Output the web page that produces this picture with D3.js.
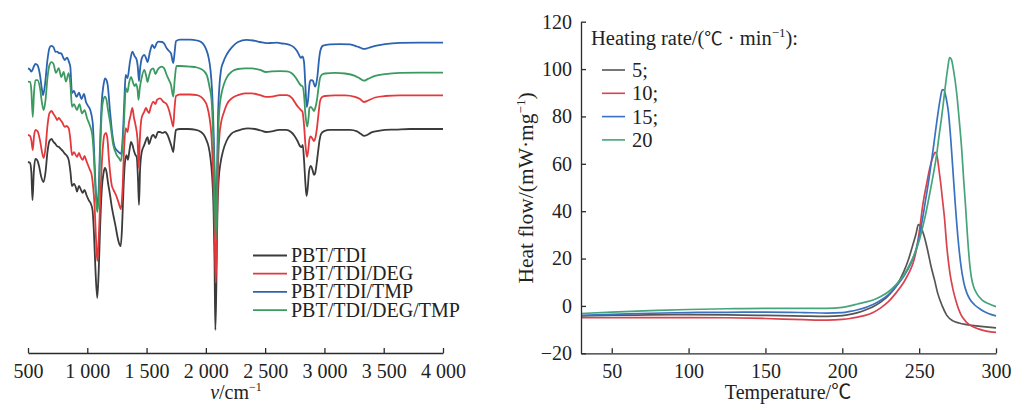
<!DOCTYPE html>
<html>
<head>
<meta charset="utf-8">
<script src="https://cdn.jsdelivr.net/npm/d3@7"></script>
<style>
  html, body { margin: 0; padding: 0; background: #fff; }
  svg { display: block; }
  text { font-family: "Liberation Serif", "Times New Roman", "Noto Sans CJK SC", serif; fill: #222; }
</style>
</head>
<body>
<svg id="chart" width="1013" height="405"></svg>
<script>
// ---------- FTIR spectra: [wavenumber cm^-1, transmittance (a.u., offset)] ----------
const irLabels = ["PBT/TDI", "PBT/TDI/DEG", "PBT/TDI/TMP", "PBT/TDI/DEG/TMP"];
const irTicks = [500, 1000, 1500, 2000, 2500, 3000, 3500, 4000];

const specTDI = [[500,61.0],[517,60.7],[528,57.7],[538,48.3],[549,57.7],[562,62.0],[576,61.7],[593,59.7],[610,56.3],[631,54.3],[648,57.7],[664,64.3],[681,68.0],[698,68.7],[715,67.7],[732,67.0],[745,66.3],[761,66.0],[778,65.3],[793,64.7],[812,63.7],[829,63.0],[843,61.7],[858,57.7],[871,53.0],[888,53.7],[905,52.3],[913,51.1],[930,53.0],[947,51.7],[961,50.7],[977,51.7],[993,50.0],[1012,48.3],[1031,47.0],[1044,45.0],[1057,36.7],[1069,25.0],[1084,15.7],[1096,24.3],[1109,40.0],[1122,51.7],[1137,57.3],[1149,59.0],[1162,57.7],[1175,54.0],[1192,50.0],[1208,45.7],[1221,43.0],[1238,39.7],[1255,36.0],[1267,34.0],[1282,33.0],[1293,39.0],[1305,51.7],[1318,61.0],[1331,63.3],[1343,61.7],[1356,65.0],[1369,67.7],[1381,66.7],[1394,64.7],[1407,63.3],[1417,62.7],[1428,55.0],[1436,46.7],[1445,58.3],[1459,64.3],[1481,66.7],[1495,68.3],[1508,69.3],[1521,67.0],[1533,68.3],[1546,69.7],[1558,70.0],[1575,69.0],[1596,71.0],[1613,71.0],[1634,70.7],[1655,71.0],[1677,70.0],[1698,67.7],[1714,65.7],[1725,64.3],[1736,68.3],[1748,71.7],[1782,72.0],[1849,72.0],[1917,71.7],[1959,71.0],[1984,70.0],[2005,68.3],[2022,66.3],[2039,62.3],[2052,56.7],[2065,45.0],[2073,28.3],[2080,5.0],[2088,18.3],[2097,43.3],[2108,55.0],[2124,60.7],[2145,64.7],[2174,68.0],[2212,70.3],[2254,71.3],[2296,71.8],[2355,72.2],[2414,72.0],[2465,71.5],[2507,71.0],[2558,71.2],[2617,71.7],[2676,71.7],[2718,71.0],[2748,69.7],[2773,68.0],[2794,66.3],[2807,66.0],[2817,66.7],[2828,61.7],[2839,54.3],[2849,49.7],[2859,52.3],[2870,57.7],[2884,59.7],[2900,58.3],[2912,56.7],[2922,57.3],[2933,60.0],[2946,64.3],[2959,68.3],[2971,70.3],[2997,71.3],[3047,71.7],[3131,71.7],[3216,71.7],[3275,71.2],[3309,70.3],[3334,69.7],[3360,70.0],[3393,70.8],[3443,71.3],[3511,71.7],[3595,71.8],[3722,72.0],[3848,72.0],[4000,72.0]];

const specDEG = [[500,70.0],[517,69.7],[528,68.3],[540,65.0],[551,69.7],[563,71.7],[580,71.3],[601,68.3],[618,64.3],[632,62.3],[648,65.7],[664,73.0],[681,77.3],[698,78.0],[715,77.0],[732,76.0],[745,75.0],[761,75.7],[774,75.0],[787,74.3],[810,72.7],[825,73.0],[843,72.3],[858,68.3],[871,63.3],[888,64.3],[913,62.7],[930,64.0],[944,62.7],[961,61.7],[977,63.0],[993,61.3],[1006,60.0],[1023,58.3],[1034,57.3],[1048,53.3],[1061,46.7],[1074,35.0],[1084,28.0],[1096,35.0],[1109,48.3],[1122,60.0],[1133,66.7],[1144,70.0],[1158,70.7],[1171,68.3],[1183,61.7],[1206,53.3],[1221,51.7],[1242,50.0],[1262,47.7],[1284,45.3],[1297,51.7],[1310,65.0],[1324,72.3],[1339,71.0],[1352,74.3],[1364,76.3],[1380,79.0],[1394,75.7],[1407,73.3],[1424,68.3],[1434,59.0],[1443,68.3],[1458,75.7],[1481,77.8],[1495,79.0],[1508,78.0],[1521,77.3],[1533,79.0],[1557,81.1],[1575,80.3],[1588,81.7],[1613,82.2],[1641,81.1],[1668,80.3],[1689,78.3],[1706,75.7],[1725,72.8],[1736,79.0],[1748,83.0],[1782,83.5],[1866,83.5],[1925,83.3],[1959,82.7],[1984,81.7],[2010,79.7],[2031,75.7],[2048,69.3],[2060,58.3],[2073,41.7],[2083,20.7],[2092,35.0],[2102,58.3],[2115,70.0],[2128,74.0],[2153,77.7],[2178,80.3],[2221,82.3],[2271,83.3],[2330,83.9],[2389,83.9],[2457,83.3],[2507,82.7],[2558,82.8],[2625,83.3],[2684,83.3],[2727,82.3],[2760,80.3],[2786,79.0],[2802,78.3],[2815,77.7],[2828,73.3],[2840,66.7],[2853,62.7],[2864,65.0],[2874,68.7],[2884,69.5],[2900,68.7],[2912,68.0],[2925,69.3],[2937,72.3],[2950,77.0],[2963,81.3],[2980,82.7],[3005,83.0],[3089,83.2],[3174,83.2],[3258,82.7],[3300,82.0],[3334,81.0],[3368,81.5],[3427,82.5],[3511,83.0],[3637,83.2],[3806,83.2],[4000,83.2]];

const specTMP = [[500,92.2],[517,91.8],[528,91.1],[538,91.7],[551,93.0],[563,93.7],[580,93.3],[601,90.0],[618,85.0],[627,83.3],[643,86.7],[664,95.0],[681,99.0],[694,99.7],[715,99.3],[732,97.7],[745,97.8],[761,97.3],[781,97.2],[795,96.0],[810,95.0],[829,95.8],[846,94.3],[857,92.7],[871,84.0],[888,84.7],[909,82.7],[930,84.1],[951,82.0],[972,83.7],[989,81.0],[1006,79.7],[1025,78.3],[1046,74.0],[1063,59.3],[1074,50.0],[1084,46.7],[1096,51.7],[1109,68.3],[1122,81.0],[1137,86.7],[1149,88.9],[1162,88.3],[1172,86.7],[1192,77.8],[1212,70.0],[1234,65.7],[1262,64.4],[1284,63.7],[1295,66.7],[1304,73.3],[1316,85.0],[1324,90.0],[1339,89.0],[1360,94.4],[1380,97.8],[1399,96.3],[1417,95.0],[1427,92.3],[1436,88.0],[1446,92.3],[1461,95.7],[1481,96.7],[1495,95.7],[1508,94.3],[1529,97.8],[1548,100.0],[1567,99.0],[1585,100.6],[1599,101.1],[1633,101.0],[1651,100.3],[1670,98.9],[1689,98.0],[1706,97.2],[1725,94.0],[1737,97.7],[1748,101.3],[1782,101.8],[1866,101.8],[1925,101.5],[1959,101.0],[1984,100.0],[2005,98.3],[2022,96.0],[2039,91.7],[2052,85.0],[2065,71.7],[2076,55.0],[2086,45.7],[2094,55.0],[2102,75.0],[2115,86.7],[2128,91.7],[2147,94.3],[2178,97.0],[2221,99.3],[2271,101.0],[2344,101.7],[2398,101.5],[2457,101.0],[2513,100.6],[2558,100.7],[2598,100.8],[2642,100.5],[2684,100.3],[2710,100.0],[2743,99.2],[2769,98.0],[2786,96.7],[2802,95.7],[2815,96.2],[2828,94.3],[2839,86.7],[2851,79.3],[2862,81.7],[2874,87.0],[2884,88.3],[2901,88.2],[2912,87.0],[2921,86.1],[2932,87.3],[2942,90.0],[2954,95.0],[2967,98.3],[2988,99.8],[3047,100.2],[3131,100.3],[3216,100.2],[3275,99.5],[3309,99.0],[3334,98.7],[3368,99.0],[3427,99.7],[3511,100.3],[3637,100.7],[3806,100.8],[4000,100.8]];

const specDEGTMP = [[500,87.8],[517,87.7],[528,85.0],[540,76.0],[551,84.3],[563,88.3],[580,88.3],[601,85.7],[618,80.7],[632,78.3],[648,81.7],[664,89.0],[681,93.3],[698,94.3],[715,93.7],[736,90.7],[759,92.3],[781,89.3],[801,91.0],[820,87.8],[843,90.6],[858,86.7],[871,79.4],[888,80.3],[913,78.3],[934,80.3],[955,77.2],[977,78.3],[998,75.6],[1025,72.8],[1042,70.0],[1054,64.0],[1065,55.0],[1074,48.3],[1084,44.3],[1096,49.0],[1109,65.0],[1122,77.7],[1135,81.7],[1149,82.8],[1162,81.7],[1175,78.3],[1192,74.4],[1219,66.7],[1248,63.3],[1267,62.3],[1284,61.3],[1295,65.0],[1304,70.0],[1318,81.7],[1324,85.7],[1339,84.3],[1352,87.3],[1369,89.4],[1384,87.7],[1398,86.3],[1411,87.0],[1424,85.0],[1432,81.7],[1443,85.7],[1458,89.0],[1481,91.7],[1495,90.0],[1508,87.7],[1521,89.7],[1537,91.7],[1557,92.2],[1575,90.3],[1592,91.7],[1628,92.8],[1647,92.3],[1670,90.0],[1689,88.3],[1706,86.7],[1725,82.8],[1737,88.3],[1752,93.0],[1782,93.0],[1866,92.8],[1925,92.5],[1959,92.0],[1984,91.3],[2010,89.7],[2031,86.0],[2048,81.7],[2060,71.7],[2073,55.0],[2083,35.0],[2092,48.3],[2102,68.3],[2115,79.0],[2128,83.0],[2153,87.0],[2178,89.3],[2221,91.2],[2271,92.0],[2330,92.2],[2389,92.2],[2457,91.7],[2507,91.0],[2558,91.2],[2625,91.3],[2684,91.2],[2727,90.5],[2760,89.0],[2786,87.3],[2802,86.5],[2815,86.3],[2828,83.3],[2840,76.7],[2855,72.8],[2866,75.7],[2874,79.0],[2884,79.4],[2900,78.7],[2912,78.0],[2925,79.3],[2937,81.7],[2950,85.7],[2963,89.0],[2980,90.2],[3005,90.5],[3089,90.7],[3174,90.5],[3258,89.7],[3300,88.8],[3334,88.1],[3368,88.7],[3427,89.7],[3511,90.3],[3637,90.7],[3806,90.8],[4000,90.8]];

// ---------- DSC curves: [temperature ℃, heat flow mW/mg] ----------
const rateLabels = ["5;", "10;", "15;", "20"];
const tempTicks = [50, 100, 150, 200, 250, 300];
const flowTicks = [-20, 0, 20, 40, 60, 80, 100, 120];

const dsc5 = [[30,-4.2],[50,-4.0],[75,-3.8],[100,-3.7],[125,-3.8],[150,-4.0],[175,-4.3],[190,-4.4],[200,-4.1],[205,-3.6],[210,-2.8],[215,-1.7],[220,-0.3],[225,1.6],[230,4.3],[235,8.3],[240,14.5],[243,19.5],[246,26],[248,30.5],[249.5,34.3],[251,33.5],[253,30],[255,25],[258,16],[260,11],[262,5.5],[265,0],[268,-4],[272,-6.3],[276,-7.2],[280,-7.8],[290,-8.6],[300,-9.3]];
const dsc10 = [[30,-5.0],[50,-5.0],[75,-4.9],[100,-4.9],[125,-5.0],[150,-5.3],[175,-5.8],[190,-6.0],[200,-5.7],[205,-5.3],[210,-4.7],[215,-4.0],[220,-2.8],[225,-0.8],[230,1.8],[235,5.5],[240,10],[243,13.5],[246,18],[248,23],[250,31],[252.7,44],[255,52],[257,58.5],[259,63],[260.5,64.8],[262,62],[263,57],[264,52],[265,46],[266.5,37],[268,25],[270,14],[272,7],[274,2],[277,-3.5],[281,-7],[289,-9.8],[300,-11.2]];
const dsc15 = [[30,-4.0],[50,-3.6],[75,-3.1],[100,-2.8],[125,-2.7],[150,-2.6],[175,-2.8],[190,-3.0],[200,-2.8],[205,-2.3],[210,-1.6],[215,-0.7],[220,0.6],[225,2.4],[230,4.8],[235,8.2],[240,12.5],[245,18.5],[248,24],[250,29],[252,36],[254,44],[256,52],[258,61],[259.5,68],[261,75.5],[262.5,82.5],[264,88.5],[265,91.2],[266,91.2],[267.5,88],[269,82],[270.5,71],[272,57],[273.5,43],[275.5,27],[277,18],[279,10],[281,5.5],[283,2.8],[286,0.5],[290,-1.5],[295,-3.2],[300,-4.2]];
const dsc20 = [[30,-3.2],[50,-2.6],[75,-2.0],[100,-1.5],[125,-1.2],[150,-1.0],[175,-1.0],[190,-1.0],[200,-0.6],[205,0],[210,0.8],[215,1.6],[220,2.5],[225,4],[230,6],[235,9],[240,13],[245,19],[248,23.5],[250,27.5],[252,32.5],[254,38],[256,44.5],[258.5,53],[261.4,64],[263,72],[264.7,80],[266.8,91.5],[268.5,100],[269.8,104.8],[271,104],[272.5,99],[274.4,90],[276,79],[277.7,66],[279,53],[280,44],[281.5,29],[283,17],[284,12],[285.5,8],[287.5,5.2],[291,2.5],[295,1],[300,-0.3]];

// ---------- drawing ----------
const svg = d3.select("#chart");
const FS = 20;
const AXIS = "#2b2b2b";
const CJK = '"Noto Sans CJK SC", "Noto Sans CJK JP", sans-serif';

// Text built from runs: plain, italic, superscript or CJK-font runs
function richText(parent, x, y, parts, opts = {}) {
  const size = opts.size || FS;
  const t = parent.append("text")
    .attr("x", x).attr("y", y)
    .attr("font-size", size)
    .attr("text-anchor", opts.anchor || "start");
  if (opts.transform) t.attr("transform", opts.transform);
  let raised = false;
  parts.forEach(p => {
    const s = t.append("tspan").text(p.t);
    if (p.italic) s.attr("font-style", "italic");
    if (p.cjk) s.style("font-family", CJK).attr("font-size", size * 0.9);
    if (p.sup) {
      s.attr("font-size", Math.round(size * 0.62)).attr("dy", -8);
      raised = true;
    } else if (raised) {
      s.attr("dy", 8);
      raised = false;
    }
  });
  return t;
}

function styleAxis(g) {
  g.selectAll("path.domain").attr("stroke", AXIS).attr("stroke-width", 1.3);
  g.selectAll(".tick line").attr("stroke", AXIS).attr("stroke-width", 1.3);
  g.selectAll(".tick text")
    .attr("font-size", FS)
    .attr("fill", "#222")
    .style("font-family", '"Liberation Serif", "Times New Roman", serif');
}

const thousands = v => v >= 1000 ? `${Math.floor(v / 1000)} ${String(v % 1000).padStart(3, "0")}` : String(v);

// ----- FTIR panel -----
const xIR = d3.scaleLinear().domain([500, 4000]).range([28, 443]);
const yIR = d3.scaleLinear().domain([0, 110]).range([345, 15]);
const irColors = ["#3b3b3b", "#e4393c", "#2c63b0", "#3b9a5f"];
const irData = [specTDI, specDEG, specTMP, specDEGTMP];

const gIR = svg.append("g");
const irLine = d3.line()
  .x(d => xIR(d[0])).y(d => yIR(d[1]))
  .curve(d3.curveMonotoneX);

irData.forEach((s, i) => {
  gIR.append("path")
    .attr("d", irLine(s))
    .attr("fill", "none")
    .attr("stroke", irColors[i])
    .attr("stroke-width", 1.8)
    .attr("stroke-linejoin", "round");
});

const gIRx = gIR.append("g")
  .attr("transform", "translate(0,353)")
  .call(d3.axisBottom(xIR).tickValues(irTicks).tickFormat(thousands)
    .tickSize(-5).tickSizeOuter(0).tickPadding(10.5));
styleAxis(gIRx);

richText(gIR, 236, 399, [{ t: "v", italic: true }, { t: "/cm" }, { t: "−1", sup: true }], { anchor: "middle" });

// legend
const irLeg = gIR.append("g");
irLabels.forEach((lab, i) => {
  const cy = 255.5 + i * 18.2;
  irLeg.append("line")
    .attr("x1", 253).attr("x2", 287)
    .attr("y1", cy).attr("y2", cy)
    .attr("stroke", irColors[i]).attr("stroke-width", 1.8);
  irLeg.append("text")
    .attr("x", 291).attr("y", cy + 6.5)
    .attr("font-size", 20)
    .text(lab);
});

// ----- DSC panel -----
const xD = d3.scaleLinear().domain([30, 300]).range([581, 996]);
const yD = d3.scaleLinear().domain([-20, 120]).range([353.3, 21.7]);
const dscColors = ["#555555", "#d8434d", "#3a72c2", "#46a47a"];
const dscData = [dsc5, dsc10, dsc15, dsc20];

const gD = svg.append("g");
const dLine = d3.line()
  .x(d => xD(d[0])).y(d => yD(d[1]))
  .curve(d3.curveMonotoneX);

dscData.forEach((s, i) => {
  gD.append("path")
    .attr("d", dLine(s))
    .attr("fill", "none")
    .attr("stroke", dscColors[i])
    .attr("stroke-width", 1.7);
});

const gDx = gD.append("g")
  .attr("transform", `translate(0,${yD(-20)})`)
  .call(d3.axisBottom(xD).tickValues(tempTicks)
    .tickSize(-5).tickSizeOuter(0).tickPadding(10.5));
styleAxis(gDx);

const gDy = gD.append("g")
  .attr("transform", `translate(${xD(30)},0)`)
  .call(d3.axisLeft(yD).tickValues(flowTicks)
    .tickSize(-5).tickSizeOuter(0).tickPadding(9));
styleAxis(gDy);

richText(gD, 788, 399, [{ t: "Temperature/℃" }], { anchor: "middle" });
richText(gD, 0, 0, [{ t: "Heat flow/(mW·mg" }, { t: "−1", sup: true }, { t: ")" }],
  { anchor: "middle", size: 21.5, transform: "translate(533,188) rotate(-90)" });

// legend
const dLeg = gD.append("g");
richText(dLeg, 591, 45, [{ t: "Heating rate/(" }, { t: "℃", cjk: true }, { t: " · min" }, { t: "−1", sup: true }, { t: "):" }],
  { size: 20.5 });
rateLabels.forEach((lab, i) => {
  const cy = 70 + i * 23.3;
  dLeg.append("line")
    .attr("x1", 602).attr("x2", 625)
    .attr("y1", cy).attr("y2", cy)
    .attr("stroke", dscColors[i]).attr("stroke-width", 1.6);
  dLeg.append("text")
    .attr("x", 632).attr("y", cy + 7)
    .attr("font-size", 20.5)
    .text(lab);
});
</script>
</body>
</html>
